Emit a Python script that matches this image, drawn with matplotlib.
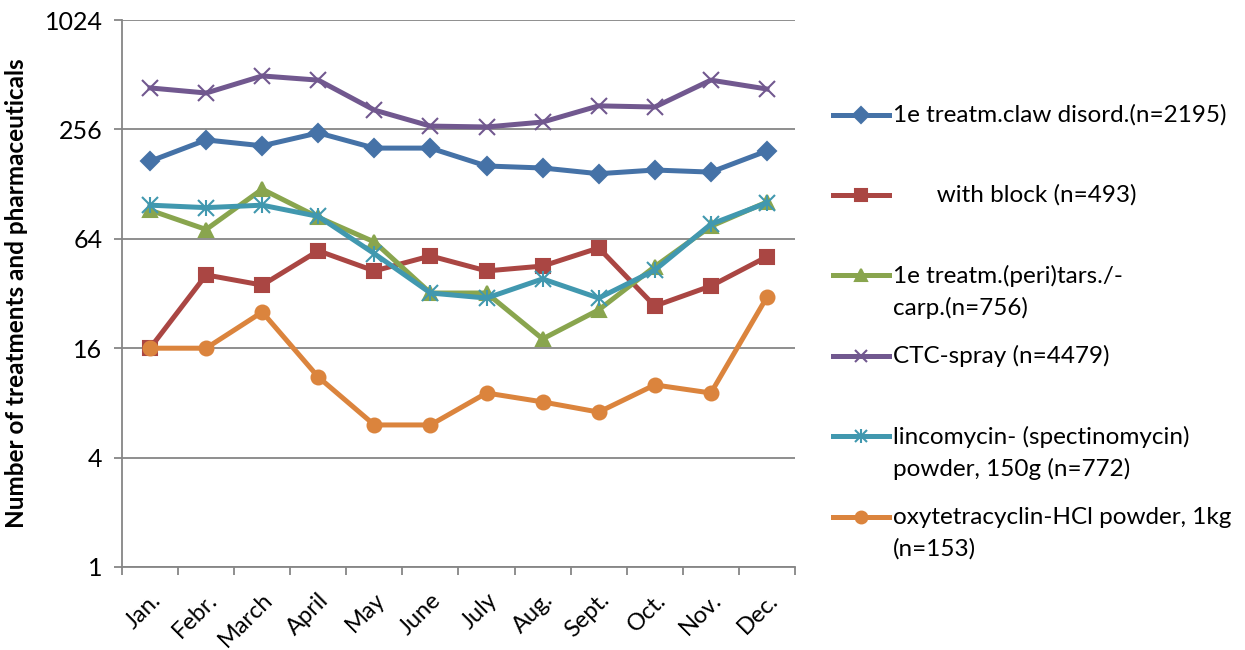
import matplotlib
matplotlib.use("Agg")
import matplotlib.pyplot as plt
from matplotlib.lines import Line2D
import numpy as np

plt.rcParams["font.family"] = ["Lato", "DejaVu Sans"]

months = ["Jan.", "Febr.", "March", "April", "May", "June",
          "July", "Aug.", "Sept.", "Oct.", "Nov.", "Dec."]

claw = [171, 224, 208, 245, 202, 202, 161, 157, 146, 153, 149, 195]
block = [16, 40.5, 35.6, 55, 42.6, 51.5, 42.6, 45.3, 57, 27.3, 35.2, 51]
tars = [92, 72, 120, 84, 61.5, 32.2, 32.2, 18, 26, 45, 75, 102]
ctc = [433, 406, 504, 478, 327, 267, 264, 281, 345, 340, 478, 427]
linco = [98, 95, 98, 85, 53, 32.2, 30.2, 38.5, 30.2, 43, 77, 101]
oxy = [16, 16, 25.3, 11.1, 6.05, 6.05, 9.07, 8.1, 7.12, 10.05, 9.07, 30.6]

labels = ["1e treatm.claw disord.(n=2195)",
          "       with block (n=493)",
          "1e treatm.(peri)tars./-\ncarp.(n=756)",
          "CTC-spray (n=4479)",
          "lincomycin- (spectinomycin)\npowder, 150g (n=772)",
          "oxytetracyclin-HCl powder, 1kg\n(n=153)"]
y_ticks = [1, 4, 16, 64, 256, 1024]

series = [claw, block, tars, ctc, linco, oxy]
colors = ["#4572A7", "#AA4643", "#89A54E", "#71588F", "#4198AF", "#DB843D"]
markers = ["D", "s", "^", "x", "x", "o"]
msizes = [9.5, 10, 10.5, 11, 11, 10]

fig = plt.figure(figsize=(12.45, 6.5), dpi=100)
ax = fig.add_axes([122 / 1245, 1 - 567 / 650, (795 - 122) / 1245, (567 - 20) / 650])

x = np.arange(len(months))
handles = []
for vals, c, m, ms in zip(series, colors, markers, msizes):
    h, = ax.plot(x, vals, color=c, lw=3.6, marker=m, ms=ms, mew=1.5,
                 mec=c, mfc=c, solid_joinstyle="round")
    handles.append(h)
# Excel-style star marker: x plus a vertical bar
ax.plot(x, linco, lw=0, marker="|", ms=12, mew=1.5, color=colors[4])

ax.set_yscale("log", base=4)
ax.set_ylim(1, 1024)
ax.set_yticks(y_ticks)
ax.set_yticklabels([str(t) for t in y_ticks], fontsize=18)
ax.yaxis.set_minor_locator(matplotlib.ticker.NullLocator())
ax.set_xlim(-0.5, len(months) - 0.5)
ax.set_xticks(x)
ax.set_xticklabels(months, rotation=45, ha="right", rotation_mode="anchor", fontsize=17)
ax.tick_params(axis="x", length=0, pad=16)
ax.set_xticks(np.arange(-0.5, len(months)), minor=True)
ax.tick_params(axis="x", which="minor", length=6, color="#868686", width=1.3)
ax.tick_params(axis="y", length=6, color="#868686", width=1.3, pad=8)

ax.grid(axis="y", color="#868686", lw=1.3)
ax.set_axisbelow(True)
for s in ["top", "right"]:
    ax.spines[s].set_visible(False)
for s in ["left", "bottom"]:
    ax.spines[s].set_color("#868686")
    ax.spines[s].set_linewidth(1.3)

ax.set_ylabel("Number of treatments and pharmaceuticals", fontsize=17.5,
              fontweight="bold", labelpad=12)

# legend drawn by hand to follow the uneven spacing of the original
leg_y = [115, 195, 275, 356, 436, 517]
for i, (h, lab, yy) in enumerate(zip(handles, labels, leg_y)):
    yf = 1 - yy / 650
    c = h.get_color()
    fig.add_artist(Line2D([833 / 1245, 889 / 1245], [yf, yf], color=c, lw=3.6,
                          transform=fig.transFigure))
    fig.add_artist(Line2D([861 / 1245], [yf], color=c, lw=0, marker=h.get_marker(),
                          ms=h.get_markersize() * 0.85, mfc=c, mec=c, mew=1.5,
                          transform=fig.transFigure))
    if i == 4:
        fig.add_artist(Line2D([861 / 1245], [yf], color=c, lw=0, marker="|",
                              ms=10, mew=1.5, transform=fig.transFigure))
    if "\n" in lab:
        fig.text(893 / 1245, yf + 10 / 650, lab, fontsize=17.5, va="top",
                 linespacing=1.55)
    else:
        fig.text(893 / 1245, yf, lab, fontsize=17.5, va="center")

fig.savefig("out.png", dpi=100)
